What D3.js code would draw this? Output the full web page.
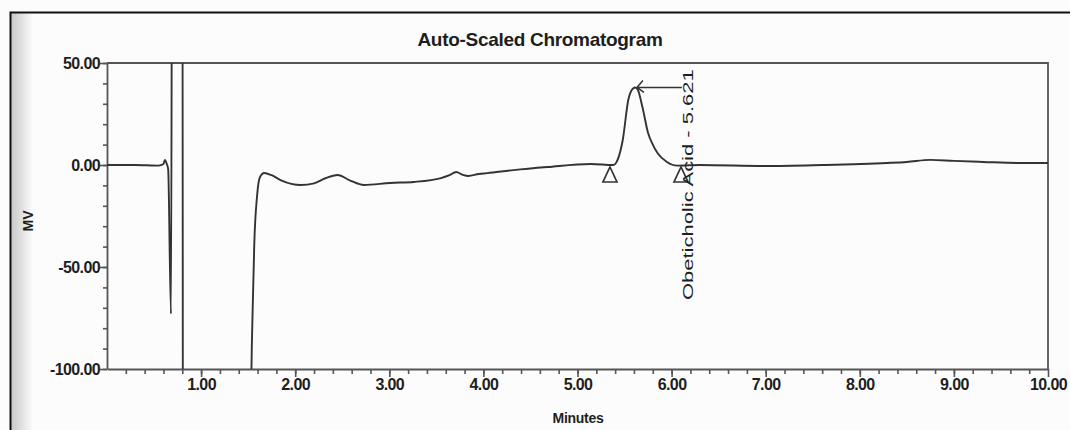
<!DOCTYPE html>
<html>
<head>
<meta charset="utf-8">
<script src="https://cdn.jsdelivr.net/npm/d3@7"></script>
<style>
  body { margin: 0; background: #fcfcfc; }
  text { font-family: "Liberation Sans", Arial, sans-serif; fill: #1e1e1e; }
</style>
</head>
<body>
<script>
// Chart values
const times = [0.00, 0.30, 0.55, 0.60, 0.615, 0.635, 0.65, 0.68, 0.695, 0.80, 0.81, 1.50,
  1.535, 1.55, 1.565, 1.595, 1.625, 1.67, 1.75, 1.85, 2.06, 2.20, 2.32, 2.45, 2.58, 2.73,
  3.01, 3.26, 3.55, 3.64, 3.71, 3.78, 3.84, 3.95, 4.04, 4.32, 4.68, 5.14, 5.38, 5.43, 5.48,
  5.54, 5.59, 5.615, 5.64, 5.69, 5.75, 5.80, 5.85, 5.95, 6.06, 6.30, 7.00, 7.60, 8.29, 8.50,
  8.75, 9.00, 9.31, 9.70, 10.00];
const mv = [0, 0, -0.3, 0.5, 2.5, 0.5, -2, -73, 200, 200, -300, -300,
  -100, -67, -39, -15, -6, -3.9, -5, -7.5, -9.8, -9, -6.5, -4.9, -7.5, -9.8,
  -8.8, -8.3, -6.4, -5, -3.4, -4.8, -5.4, -4.4, -4, -2.5, -1, 0.5, 0, 3, 12,
  32, 37.5, 38, 37, 28.4, 15.7, 10, 5.9, 1.5, -0.3, 0, -0.5, 0, 1, 1.5,
  2.5, 2, 1.5, 1, 1];

const xTicks = [1, 2, 3, 4, 5, 6, 7, 8, 9, 10];   // labelled minute ticks
const yTicks = [-100, -50, 0, 50];                 // labelled mV ticks
const peakName = "Obeticholic Acid";
const peakTime = 5.621;
const peakMv = 38;
const peakStart = 5.345, peakEnd = 6.10;           // integration markers

const width = 1070, height = 430;
const margin = { top: 63, right: 22, bottom: 61, left: 107 };
const fmt = d => d3.format(".2f")(d).replace("\u2212", "-"); // plain hyphen like the print

const svg = d3.select("body").append("svg")
  .attr("width", width)
  .attr("height", height);

// Scanned page look: light background, a dark page edge and a grey shade on the left
const defs = svg.append("defs");
const shade = defs.append("linearGradient").attr("id", "shade");
shade.append("stop").attr("offset", "0%").attr("stop-color", "#c8c8c8");
shade.append("stop").attr("offset", "100%").attr("stop-color", "#fcfcfc");
svg.append("rect").attr("x", 11).attr("y", 13).attr("width", 22).attr("height", height)
  .attr("fill", "url(#shade)");
svg.append("rect")
  .attr("x", 10.5).attr("y", 12.5)
  .attr("width", width + 20).attr("height", height + 20)
  .attr("fill", "none").attr("stroke", "#111").attr("stroke-width", 2);

// Scales
const x = d3.scaleLinear().domain([0, 10]).range([margin.left, width - margin.right]);
const y = d3.scaleLinear().domain([-100, 50]).range([height - margin.bottom, margin.top]);

defs.append("clipPath").attr("id", "plot")
  .append("rect")
  .attr("x", x(0)).attr("y", y(50))
  .attr("width", x(10) - x(0)).attr("height", y(-100) - y(50));

// Frame (top and right edges)
svg.append("path")
  .attr("d", `M${x(0)},${y(50)}H${x(10)}V${y(-100)}`)
  .attr("fill", "none").attr("stroke", "#555").attr("stroke-width", 1.8);

// Minor ticks first, then the labelled axes
svg.append("g")
  .attr("transform", `translate(0,${y(-100)})`)
  .call(d3.axisBottom(x).tickValues(d3.range(1, 50).map(d => d / 5)).tickSize(5).tickFormat(""))
  .call(g => g.select(".domain").remove())
  .selectAll("line").attr("stroke", "#555").attr("stroke-width", 1.6);

svg.append("g")
  .attr("transform", `translate(${x(0)},0)`)
  .call(d3.axisLeft(y).tickValues(d3.range(-100, 51, 10)).tickSize(4).tickFormat(""))
  .call(g => g.select(".domain").remove())
  .selectAll("line").attr("stroke", "#555").attr("stroke-width", 1.6);

const xAxis = svg.append("g")
  .attr("transform", `translate(0,${y(-100)})`)
  .call(d3.axisBottom(x).tickValues(xTicks).tickSize(8).tickSizeOuter(0).tickFormat(fmt));
xAxis.select(".domain").attr("stroke", "#555").attr("stroke-width", 1.8);
xAxis.selectAll("line").attr("stroke", "#555").attr("stroke-width", 1.6);
xAxis.selectAll("text")
  .attr("y", 21).attr("dy", 0)
  .style("font-size", "16px").style("font-weight", "bold").style("letter-spacing", "-0.6px")
  .attr("fill", "#1e1e1e");

const yAxis = svg.append("g")
  .attr("transform", `translate(${x(0)},0)`)
  .call(d3.axisLeft(y).tickValues(yTicks).tickSize(7).tickSizeOuter(0).tickFormat(fmt));
yAxis.select(".domain").attr("stroke", "#555").attr("stroke-width", 1.8);
yAxis.selectAll("line").attr("stroke", "#555").attr("stroke-width", 1.6);
yAxis.selectAll("text")
  .attr("x", -7).attr("dy", "0.36em")
  .style("font-size", "16px").style("font-weight", "bold").style("letter-spacing", "-0.6px")
  .attr("fill", "#1e1e1e");

// Signal trace, clipped to the plot area
const points = times.map((t, i) => [t, mv[i]]);
svg.append("path")
  .datum(points)
  .attr("clip-path", "url(#plot)")
  .attr("fill", "none")
  .attr("stroke", "#333")
  .attr("stroke-width", 1.9)
  .attr("stroke-linejoin", "round")
  .attr("d", d3.line().x(d => x(d[0])).y(d => y(d[1])).curve(d3.curveMonotoneX));

// Baseline markers (open triangles)
svg.selectAll("path.marker")
  .data([peakStart, peakEnd])
  .enter().append("path")
  .attr("class", "marker")
  .attr("d", d => {
    const cx = x(d), top = y(0) + 2;
    return `M${cx},${top}L${cx + 7},${top + 15}L${cx - 7},${top + 15}Z`;
  })
  .attr("fill", "#fff").attr("stroke", "#333").attr("stroke-width", 1.7);

// Peak label leader and arrowhead
const ax = x(peakTime), ay = y(peakMv);
svg.append("path")
  .attr("d", `M${ax + 2},${ay}H${ax + 46}M${ax + 1},${ay}l6,-7M${ax + 1},${ay}l7,5`)
  .attr("fill", "none").attr("stroke", "#333").attr("stroke-width", 1.5);

// Printed label is stretched along its length, so scale it along the text direction
svg.append("text")
  .attr("transform", `translate(${ax + 57},300) rotate(-90) scale(1.57,1)`)
  .style("font-size", "14px")
  .text(`${peakName} - ${peakTime.toFixed(3)}`);

// Titles
svg.append("text")
  .attr("x", 540).attr("y", 46)
  .attr("text-anchor", "middle")
  .style("font-size", "19px").style("font-weight", "bold").style("letter-spacing", "-0.3px")
  .text("Auto-Scaled Chromatogram");

svg.append("text")
  .attr("transform", "translate(33,221) rotate(-90)")
  .attr("text-anchor", "middle")
  .style("font-size", "14px").style("font-weight", "bold")
  .text("MV");

svg.append("text")
  .attr("x", 578).attr("y", 423)
  .attr("text-anchor", "middle")
  .style("font-size", "14px").style("font-weight", "bold").style("letter-spacing", "-0.3px")
  .text("Minutes");
</script>
</body>
</html>
